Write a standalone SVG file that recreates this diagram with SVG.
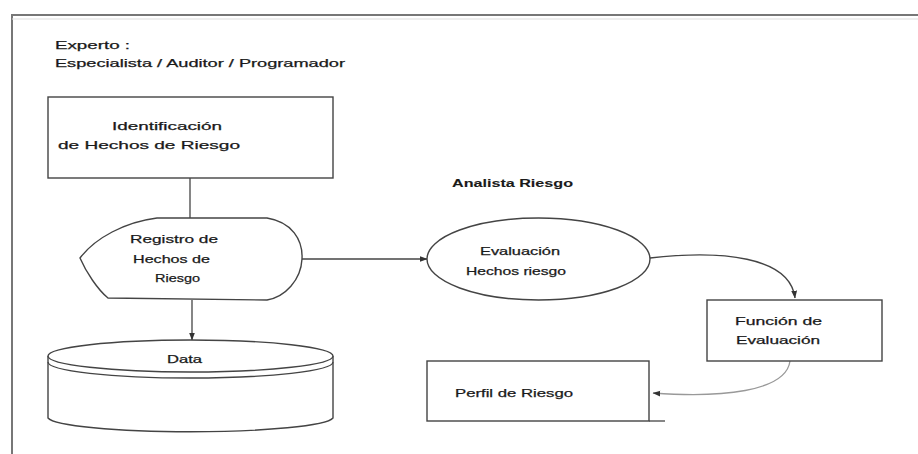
<svg xmlns="http://www.w3.org/2000/svg" width="918" height="454" viewBox="0 0 918 454">
  <style>
    .t { font-family: "Liberation Sans", Arial, sans-serif; font-size: 11px; fill: #1a1a1a; stroke: #1a1a1a; stroke-width: 0.25; }
    .b { font-weight: bold; stroke-width: 0.1; }
    .s { fill: #fff; stroke: #444; stroke-width: 1.4; }
    .ln { fill: none; stroke: #444; stroke-width: 1.3; }
    .lt { fill: none; stroke: #999; stroke-width: 1.3; }
    .frame { fill: none; stroke: #777; stroke-width: 2; }
  </style>
  <defs>
    <marker id="arr" viewBox="0 0 8 8" refX="7.5" refY="4" markerWidth="6" markerHeight="6" orient="auto">
      <path d="M0,1 L8,4 L0,7 Z" fill="#333"/>
    </marker>
  </defs>

  <rect width="918" height="454" fill="#fff"/>

  <!-- page frame -->
  <path class="frame" d="M12,454 L12,15 L918,15"/>
  <line x1="12" y1="19" x2="918" y2="19" stroke="#ddd" stroke-width="1"/>

  <!-- heading -->
  <g id="experto">
    <text class="t" x="55" y="49" textLength="75" lengthAdjust="spacingAndGlyphs">Experto :</text>
    <text class="t" x="55" y="67" textLength="290" lengthAdjust="spacingAndGlyphs">Especialista / Auditor / Programador</text>
  </g>

  <g id="analista">
    <text class="t b" x="452" y="187" textLength="121" lengthAdjust="spacingAndGlyphs">Analista Riesgo</text>
  </g>

  <!-- connectors -->
  <g id="connectors">
    <line class="ln" x1="190" y1="178" x2="190" y2="218"/>
    <line class="ln" x1="302" y1="259" x2="427" y2="259" marker-end="url(#arr)"/>
    <line class="ln" x1="192" y1="300" x2="192" y2="340" marker-end="url(#arr)"/>
    <path class="ln" d="M650,258 C720,250 790,256 795,298" marker-end="url(#arr)"/>
    <path class="lt" d="M790,361 C786,392 720,398 653,393" marker-end="url(#arr)"/>
  </g>

  <!-- Identificación de Hechos de Riesgo -->
  <g id="identificacion">
    <rect class="s" x="48" y="97" width="285" height="81"/>
    <text class="t" x="112" y="130" textLength="110" lengthAdjust="spacingAndGlyphs">Identificación</text>
    <text class="t" x="58" y="149" textLength="182" lengthAdjust="spacingAndGlyphs">de Hechos de Riesgo</text>
  </g>

  <!-- Registro de Hechos de Riesgo -->
  <g id="registro">
    <path class="s" d="M157,218 L267,218 C292,222 303,240 302,259 C301,280 285,297 267,300 L108,298 C98,290 86,272 80,258 C95,238 125,222 157,218 Z"/>
    <text class="t" x="130" y="243" textLength="88" lengthAdjust="spacingAndGlyphs">Registro de</text>
    <text class="t" x="133" y="263" textLength="77" lengthAdjust="spacingAndGlyphs">Hechos de</text>
    <text class="t" x="155" y="282" textLength="45" lengthAdjust="spacingAndGlyphs">Riesgo</text>
  </g>

  <!-- Data store -->
  <g id="data">
    <path class="s" d="M48,356 L48,418 A143,15 0 0 0 333,418 L333,356"/>
    <ellipse class="s" cx="190.5" cy="356" rx="142.5" ry="16"/>
    <path class="ln" d="M48,362 A142.5,16 0 0 0 333,362"/>
    <text class="t" x="167" y="363" textLength="35" lengthAdjust="spacingAndGlyphs">Data</text>
  </g>

  <!-- Evaluación Hechos riesgo -->
  <g id="evaluacion">
    <ellipse class="s" cx="538.5" cy="259" rx="111.5" ry="41"/>
    <text class="t" x="480" y="255" textLength="80" lengthAdjust="spacingAndGlyphs">Evaluación</text>
    <text class="t" x="466" y="275" textLength="100" lengthAdjust="spacingAndGlyphs">Hechos riesgo</text>
  </g>

  <!-- Función de Evaluación -->
  <g id="funcion">
    <rect class="s" x="707" y="300" width="175" height="61"/>
    <text class="t" x="735" y="325" textLength="87" lengthAdjust="spacingAndGlyphs">Función de</text>
    <text class="t" x="736" y="344" textLength="84" lengthAdjust="spacingAndGlyphs">Evaluación</text>
  </g>

  <!-- Perfil de Riesgo -->
  <g id="perfil">
    <rect class="s" x="427" y="361" width="222" height="60"/>
    <line class="ln" x1="649" y1="421" x2="665" y2="421"/>
    <text class="t" x="455" y="397" textLength="118" lengthAdjust="spacingAndGlyphs">Perfil de Riesgo</text>
  </g>
</svg>
